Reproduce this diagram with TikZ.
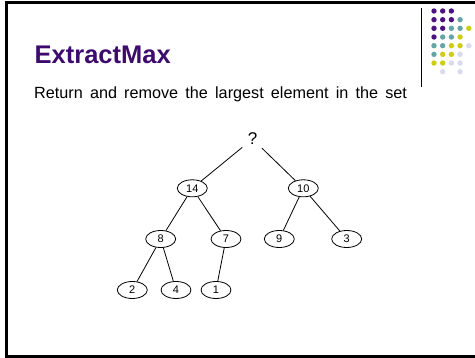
\documentclass[tikz,border=0pt]{standalone}
\usepackage{fontspec}
\setmainfont{Liberation Sans}
\usetikzlibrary{shapes.geometric}
\definecolor{titlepurple}{HTML}{3D0B6E}
\definecolor{dotP}{HTML}{4A1380}
\definecolor{dotT}{HTML}{66A5A5}
\definecolor{dotY}{HTML}{CDCD12}
\definecolor{dotL}{HTML}{DADAEE}
\tikzset{
  heapnode/.style={draw=black, line width=0.8pt, ellipse, minimum width=30pt, minimum height=17pt, inner sep=0pt, font=\fontsize{11}{12}\selectfont},
  qnode/.style={circle, minimum size=26pt, inner sep=0pt, font=\fontsize{17}{18}\selectfont},
  edge/.style={draw=black, line width=0.8pt},
  dot/.style={circle, inner sep=0pt, minimum size=5.4pt}
}
\begin{document}
\begin{tikzpicture}[x=1pt,y=-1pt]
\useasboundingbox (0,0) rectangle (475,358);
% frame
\draw[line width=2.6pt] (490,2.6) -- (6.5,2.6) -- (6.5,356.5) -- (490,356.5);
% title
\node[anchor=base west, inner sep=0pt, text=titlepurple, font=\fontsize{25.5}{28}\selectfont\bfseries] (title) at (34.5,64) {ExtractMax};
\node[anchor=base west, inner sep=0pt, font=\fontsize{16.2}{18}\selectfont] (sub) at (34,98.5) {\spaceskip=7.2pt\relax Return and remove the largest element in the set};
% vertical rule
\draw[line width=1pt] (421.5,8) -- (421.5,87);
% dots
\foreach \col/\row/\c in {1/1/dotP,2/1/dotP,3/1/dotP,
  1/2/dotP,2/2/dotP,3/2/dotP,4/2/dotT,
  1/3/dotP,2/3/dotP,3/3/dotT,4/3/dotT,5/3/dotY,
  1/4/dotP,2/4/dotT,3/4/dotT,4/4/dotY,
  1/5/dotT,2/5/dotT,3/5/dotY,4/5/dotY,5/5/dotL,
  1/6/dotT,2/6/dotY,3/6/dotY,4/6/dotL,
  1/7/dotY,2/7/dotY,3/7/dotL,4/7/dotL,
  2/8/dotL,4/8/dotL}
  \node[dot, fill=\c] (d\col\row) at ({434+8.7*(\col-1)},{11+8.67*(\row-1)}) {};
% tree
\node[qnode] (q) at (252.5,139) {?};
\node[heapnode] (n14) at (192.3,188.3) {14};
\node[heapnode] (n10) at (303.3,188.3) {10};
\node[heapnode] (n8) at (160.7,239) {8};
\node[heapnode] (n7) at (226,239) {7};
\node[heapnode] (n9) at (279.3,239) {9};
\node[heapnode] (n3) at (346.7,239) {3};
\node[heapnode] (n2) at (132.3,290) {2};
\node[heapnode] (n4) at (176,290) {4};
\node[heapnode] (n1) at (216,290) {1};
\draw[edge] (q) -- (n14);
\draw[edge] (q) -- (n10);
\draw[edge] (n14) -- (n8);
\draw[edge] (n14) -- (n7);
\draw[edge] (n10) -- (n9);
\draw[edge] (n10) -- (n3);
\draw[edge] (n8) -- (n2);
\draw[edge] (n8) -- (n4);
\draw[edge] (n7) -- (n1);
\end{tikzpicture}
\end{document}
